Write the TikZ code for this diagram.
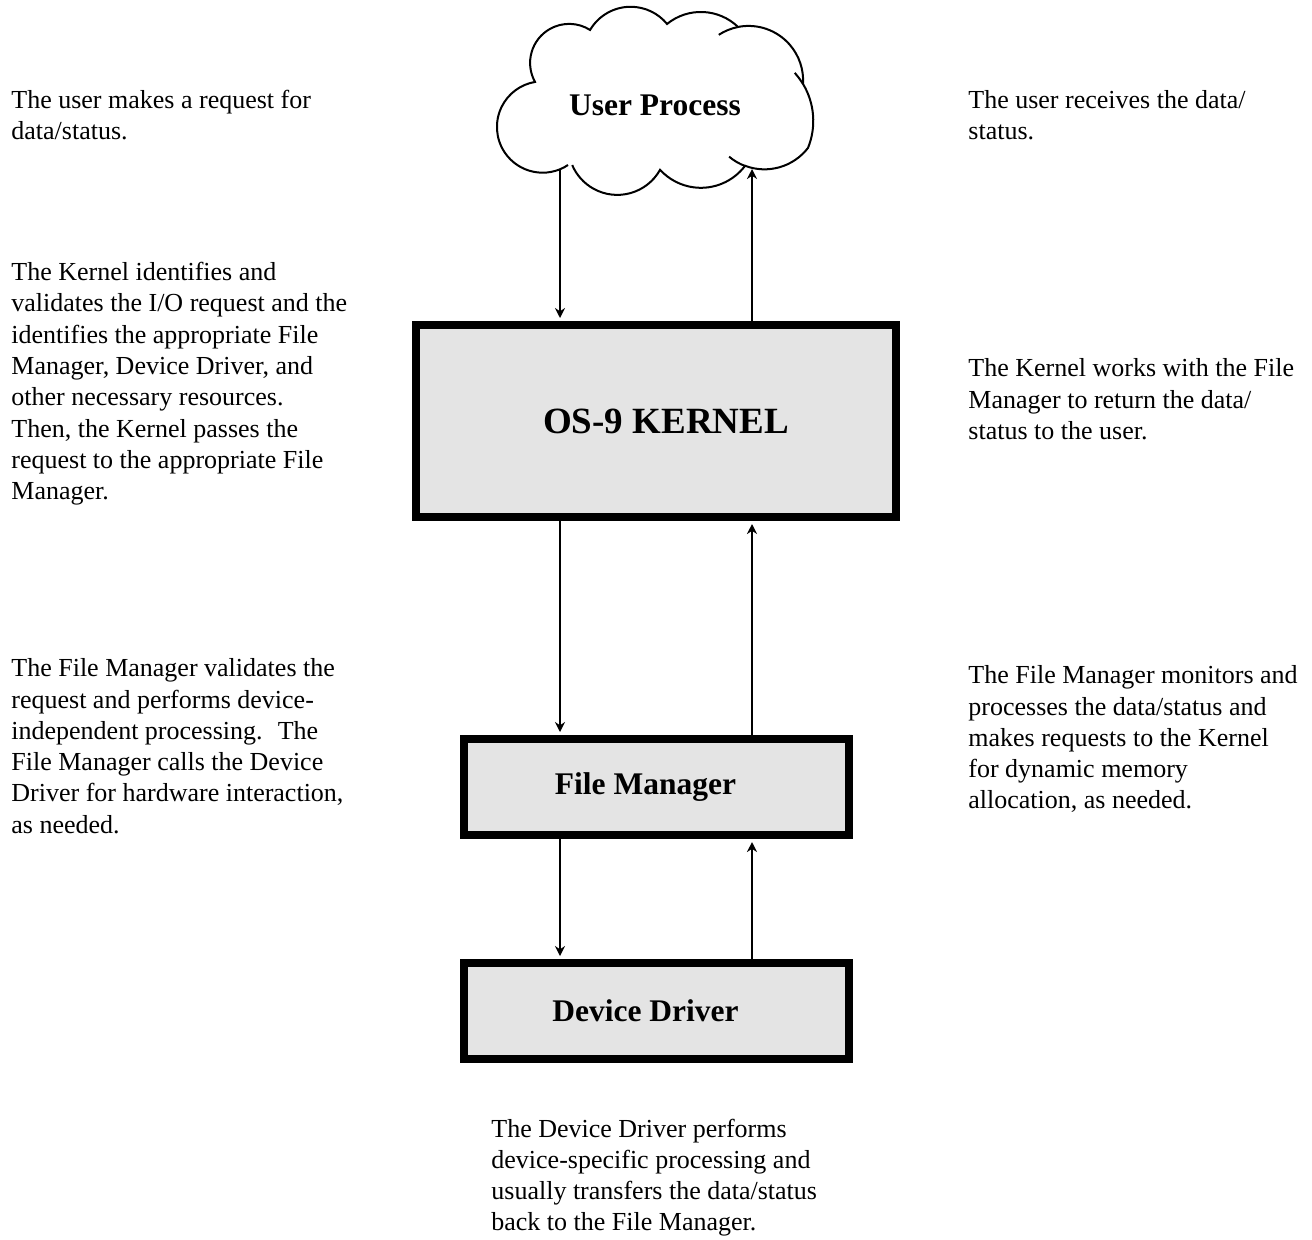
\documentclass[tikz,border=0pt]{standalone}
\usepackage{fontspec}
\setmainfont{Liberation Serif}
\usetikzlibrary{arrows.meta}
\definecolor{boxgray}{RGB}{228,228,228}
\tikzset{
  box/.style={draw, line width=4pt, fill=boxgray, inner sep=0pt, font=\fontsize{15.75}{18}\selectfont\bfseries},
  note/.style={align=left, inner sep=0pt, anchor=base west, font=\fontsize{13}{15.65}\selectfont},
  arr/.style={-{Stealth[length=5pt,width=5pt]}, line width=1pt, shorten >=1.5pt}
}
\begin{document}
\begin{tikzpicture}[x=0.5pt,y=-0.5pt]
\useasboundingbox (0,0) rectangle (1312,1239);
% the cloud, puff by puff (clockwise from the lower left)
\draw[line width=1pt] (568,165) arc[start angle=56.3, end angle=260.4, radius=45.7] arc[start angle=150.9, end angle=302.4, radius=39.06]
  arc[start angle=210.5, end angle=320.6, radius=47.1] arc[start angle=230.9, end angle=313.9, radius=53.6]
  arc[start angle=258.9, end angle=363.6, radius=54.6] arc[start angle=329.05, end angle=382.0, radius=71.9]
  arc[start angle=37.5, end angle=110.7, radius=54.9] arc[start angle=37.0, end angle=137.6, radius=55.3]
  arc[start angle=29.2, end angle=157.0, radius=49.0];
\draw[line width=1pt] (748.5,80.6) ++(237:54.6) arc[start angle=237, end angle=258.9, radius=54.6];
\draw[line width=1pt] (741.3,121) ++(318:71.9) arc[start angle=318, end angle=329.05, radius=71.9];
\draw[line width=1pt] (764.4,114.6) ++(110.7:54.9) arc[start angle=110.7, end angle=130, radius=54.9];
\node[anchor=base, inner sep=0pt, font=\fontsize{15.75}{18}\selectfont\bfseries] (user) at (655,115) {User Process};
% the layers below it
\node[box, minimum width=240pt, minimum height=96pt, font=\fontsize{18.5}{22}\selectfont\bfseries] (kernel) at (656,421) {\kern10pt OS-9 KERNEL};
\node[box, minimum width=192.5pt, minimum height=48pt] (fm) at (656.5,787) {File Manager\kern11pt};
\node[box, minimum width=192.5pt, minimum height=48pt] (dd) at (656.5,1011) {Device Driver\kern11pt};
% request goes down on the left, data comes back up on the right
\coordinate (lx) at (560,0);\coordinate (rx) at (752,0);
\coordinate (ubl) at (560,169.5);\coordinate (ubr) at (752,166);
\draw[arr] (ubl) -- (lx |- kernel.north);\draw[arr] (rx |- kernel.north) -- (ubr);
\draw[arr] (lx |- kernel.south) -- (lx |- fm.north);\draw[arr] (rx |- fm.north) -- (rx |- kernel.south);
\draw[arr] (lx |- fm.south) -- (lx |- dd.north);\draw[arr] (rx |- dd.north) -- (rx |- fm.south);
% notes (placed at the baseline of their last line)
\node[note] (req) at (11,139.5) {The user makes a request for\\data/status.};
\node[note] (recv) at (968,139.5) {The user receives the data/\\status.};
\node[note] (kval) at (11,499.6) {The Kernel identifies and\\validates the I/O request and the\\identifies the appropriate File\\Manager, Device Driver, and\\other necessary resources.\\Then, the Kernel passes the\\request to the appropriate File\\Manager.};
\node[note] (kret) at (968,439.3) {The Kernel works with the File\\Manager to return the data/\\status to the user.};
\node[note] (fval) at (11,833.2) {The File Manager validates the\\request and performs device-\\independent processing.~ The\\File Manager calls the Device\\Driver for hardware interaction,\\as needed.};
\node[note] (fmon) at (968,808.9) {The File Manager monitors and\\processes the data/status and\\makes requests to the Kernel\\for dynamic memory\\allocation, as needed.};
\node[note] (ddp) at (491,1230.9) {The Device Driver performs\\device-specific processing and\\usually transfers the data/status\\back to the File Manager.};
\end{tikzpicture}
\end{document}
